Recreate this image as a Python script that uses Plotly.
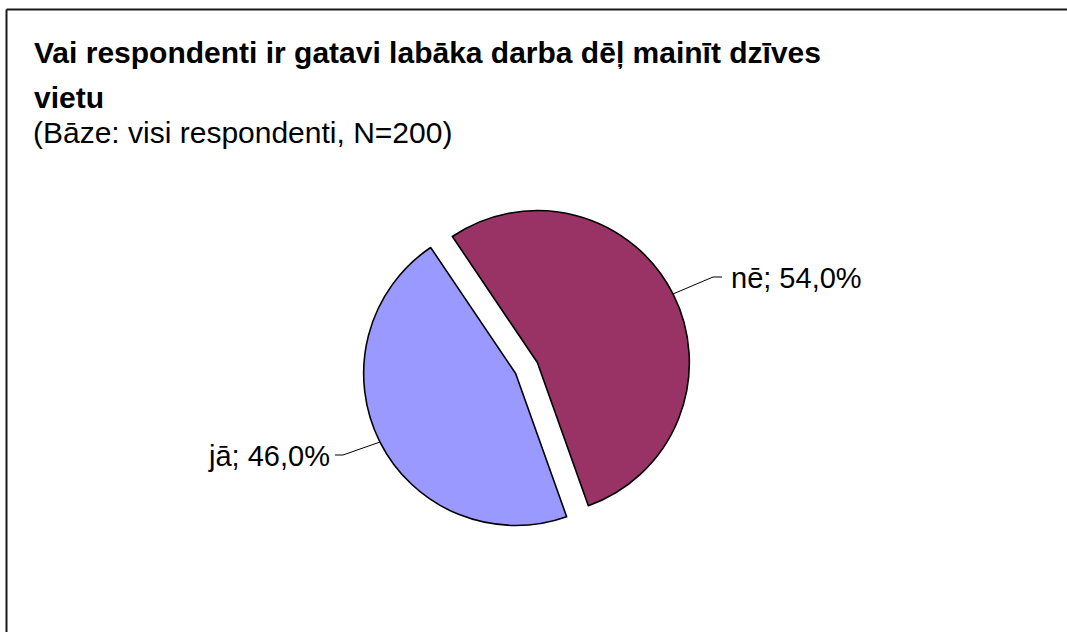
import math
import plotly.graph_objects as go

# ---- data ----
labels = ["nē", "jā"]
values = [54.0, 46.0]
label_text = ["nē; 54,0%", "jā; 46,0%"]
colors = ["#993366", "#9999FF"]
title_lines = ["Vai respondenti ir gatavi labāka darba dēļ mainīt dzīves", "vietu"]
subtitle = "(Bāze: visi respondenti, N=200)"

# ---- layout constants (pixels) ----
W, H = 1067, 632
CX, CY = 526.5, 368.0      # pie centre
R = 152.0                  # pie radius
PULL = 0.08
ROT = -34.0                # start angle of the first slice (deg, clockwise from 12 o'clock)
FONT = "Liberation Sans, Arial, sans-serif"

def px(x):
    return x / W

def py(y):
    return 1 - y / H

half = R * (1 + PULL)
fig = go.Figure(go.Pie(
    labels=labels, values=values, sort=False, direction="clockwise",
    rotation=ROT, pull=[PULL] * len(values),
    marker=dict(colors=colors, line=dict(color="#000000", width=1.6)),
    textinfo="none", hoverinfo="label+percent", showlegend=False,
    domain=dict(x=[px(CX - half), px(CX + half)], y=[py(CY + half), py(CY - half)]),
))

# label positions: (elbow x, elbow y, end x, text x, anchor)
label_layout = [
    dict(ex=713, ey=277, hx=722, tx=729, anchor="left"),
    dict(ex=343, ey=455, hx=335, tx=332, anchor="right"),
]

shapes = []
annotations = []
total = sum(values)
start = ROT
for val, txt, lay in zip(values, label_text, label_layout):
    span = 360 * val / total
    mid = math.radians(start + span / 2)
    start += span
    dx, dy = math.sin(mid), -math.cos(mid)
    sx, sy = CX + PULL * R * dx, CY + PULL * R * dy
    edge_x, edge_y = sx + R * dx, sy + R * dy
    path = (f"M {px(edge_x)} {py(edge_y)} L {px(lay['ex'])} {py(lay['ey'])} "
            f"L {px(lay['hx'])} {py(lay['ey'])}")
    shapes.append(dict(type="path", xref="paper", yref="paper", path=path,
                       line=dict(color="#000000", width=1)))
    annotations.append(dict(x=px(lay["tx"]), y=py(lay["ey"] + 1), xref="paper", yref="paper",
                            text=txt, showarrow=False, xanchor=lay["anchor"], yanchor="middle",
                            font=dict(family=FONT, size=29, color="#000000")))

# title and subtitle
annotations.append(dict(x=px(32), y=py(52), xref="paper", yref="paper",
                        text="<b>" + title_lines[0] + "</b>", showarrow=False,
                        xanchor="left", yanchor="middle",
                        font=dict(family=FONT, size=30, color="#000000")))
annotations.append(dict(x=px(32), y=py(97), xref="paper", yref="paper",
                        text="<b>" + title_lines[1] + "</b>", showarrow=False,
                        xanchor="left", yanchor="middle",
                        font=dict(family=FONT, size=30, color="#000000")))
annotations.append(dict(x=px(31), y=py(132), xref="paper", yref="paper",
                        text=subtitle, showarrow=False,
                        xanchor="left", yanchor="middle",
                        font=dict(family=FONT, size=30, color="#000000")))

# chart frame (only the left and top edges are visible)
frame_line = dict(color="#1a1a1a", width=2)
shapes.append(dict(type="line", xref="paper", yref="paper",
                   x0=px(6.5), x1=1.05, y0=py(9.5), y1=py(9.5), line=frame_line))
shapes.append(dict(type="line", xref="paper", yref="paper",
                   x0=px(6.5), x1=px(6.5), y0=-0.05, y1=py(9.5), line=frame_line))

fig.update_layout(
    width=W, height=H, margin=dict(l=0, r=0, t=0, b=0),
    paper_bgcolor="#FFFFFF", plot_bgcolor="#FFFFFF",
    shapes=shapes, annotations=annotations,
)

fig.write_html(
    "out.html",
    config={"displayModeBar": False},
    post_script="document.body.style.margin='0';document.body.style.overflow='hidden';",
)
